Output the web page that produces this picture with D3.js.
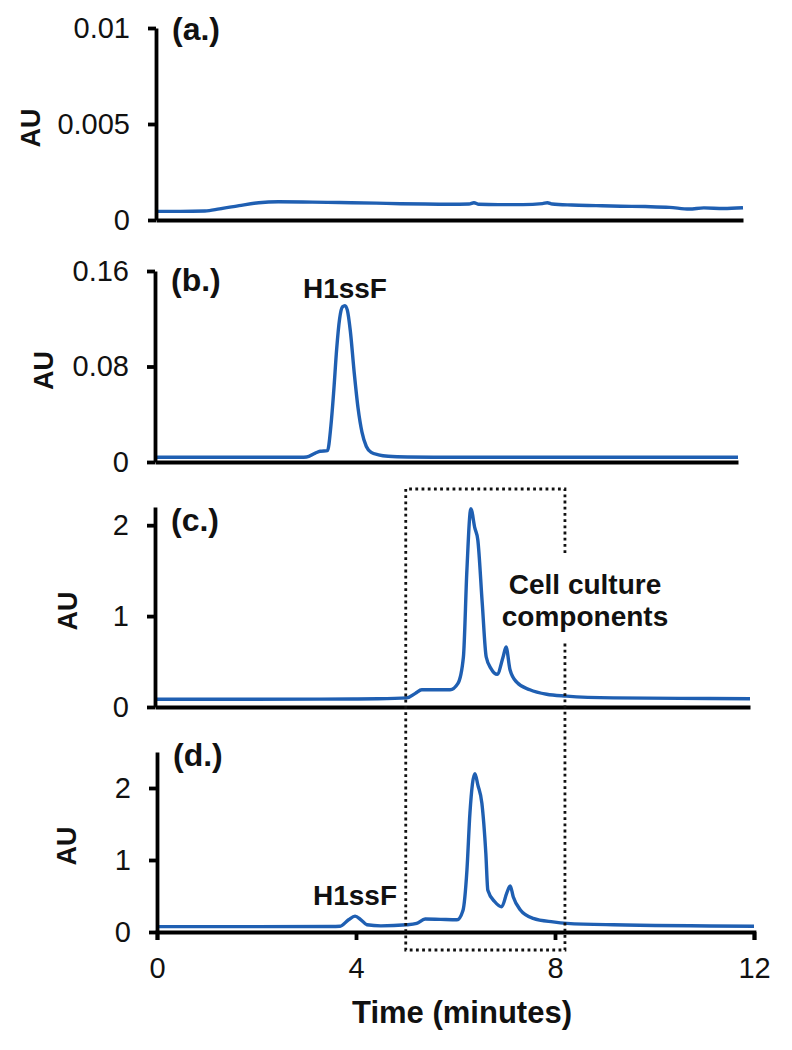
<!DOCTYPE html>
<html>
<head>
<meta charset="utf-8">
<script src="https://cdn.jsdelivr.net/npm/d3@7"></script>
<style>
  body { margin: 0; background: #fff; }
  svg { font-family: "Liberation Sans", Arial, sans-serif; }
  .axis path, .axis line { stroke: #000; stroke-width: 3.8; }
  .axis text { font-family: "Liberation Sans", Arial, sans-serif; font-size: 29px; fill: #111; }
  .trace { fill: none; stroke: #1f5fb2; stroke-width: 3.4; stroke-linejoin: round; }
  .lbl { font-weight: bold; fill: #111; }
</style>
</head>
<body>
<svg id="chart" width="792" height="1050"></svg>
<script>
// (a.) blank
const timeA = [0, 0.5, 1.0, 1.3, 1.7, 2.1, 2.5, 3.0, 3.5, 4.0, 4.5, 5.0, 5.5, 6.0, 6.4, 6.5, 6.6, 7.0, 7.5, 7.9, 8.0, 8.1, 8.5, 9.0, 9.5, 10.0, 10.5, 10.9, 11.2, 11.6, 12];
const auA = [0.00045, 0.00045, 0.00047, 0.00058, 0.00075, 0.0009, 0.00095, 0.00094, 0.00092, 0.0009, 0.00088, 0.00085, 0.00083, 0.00082, 0.00083, 0.0009, 0.00082, 0.0008, 0.0008, 0.00085, 0.0009, 0.00083, 0.00078, 0.00075, 0.00072, 0.0007, 0.00066, 0.00057, 0.00063, 0.0006, 0.00064];

// (b.) H1ssF standard
const timeB = [0, 1, 2, 3, 3.12, 3.3, 3.4, 3.55, 3.62, 3.68, 3.74, 3.8, 3.86, 3.91, 3.96, 4.02, 4.1, 4.18, 4.26, 4.35, 4.45, 4.6, 4.8, 5.2, 6, 8, 10, 12];
const auB = [0.004, 0.004, 0.004, 0.004, 0.0042, 0.0075, 0.009, 0.0095, 0.03, 0.06, 0.095, 0.12, 0.13, 0.131, 0.127, 0.11, 0.075, 0.045, 0.025, 0.013, 0.008, 0.006, 0.0048, 0.0042, 0.004, 0.004, 0.004, 0.004];

// (c.) cell culture medium
const timeC = [0, 2, 4, 4.5, 5.08, 5.25, 5.38, 5.7, 5.95, 6.11, 6.22, 6.29, 6.37, 6.45, 6.51, 6.6, 6.68, 6.78, 6.9, 7.02, 7.08, 7.16, 7.3, 7.56, 7.9, 8.3, 9.24, 10.6, 12];
const auC = [0.085, 0.085, 0.088, 0.09, 0.1, 0.15, 0.19, 0.19, 0.19, 0.26, 0.55, 1.5, 2.18, 1.97, 1.84, 1.14, 0.55, 0.42, 0.36, 0.55, 0.66, 0.41, 0.27, 0.19, 0.14, 0.12, 0.1, 0.095, 0.09];

// (d.) H1ssF spiked into medium
const timeD = [0, 2, 3.5, 3.68, 3.85, 3.98, 4.1, 4.22, 4.5, 5.02, 5.22, 5.39, 5.7, 6.03, 6.15, 6.23, 6.29, 6.39, 6.45, 6.53, 6.61, 6.65, 6.79, 6.93, 7.03, 7.1, 7.16, 7.3, 7.56, 7.96, 8.24, 9.17, 12];
const auD = [0.074, 0.074, 0.076, 0.08, 0.17, 0.22, 0.17, 0.1, 0.085, 0.1, 0.12, 0.18, 0.175, 0.17, 0.3, 0.86, 1.65, 2.2, 2.04, 1.79, 1.09, 0.58, 0.42, 0.35, 0.54, 0.64, 0.49, 0.31, 0.19, 0.14, 0.12, 0.1, 0.08];

const yTicksA = [0, 0.005, 0.01];
const yTicksB = [0, 0.08, 0.16];
const yTicksC = [0, 1, 2];
const yTicksD = [0, 1, 2];
const xTicks = [0, 4, 8, 12];
const yMax = [0.01, 0.16, 2.2, 2.5];

const panelLabels = ["(a.)", "(b.)", "(c.)", "(d.)"];
const peakNotes = [
  { panel: 1, time: 3.91, text: "H1ssF" },
  { panel: 3, time: 3.98, text: "H1ssF" }
];
const boxTimes = [5.0, 8.2];
const boxNote = ["Cell culture", "components"];

// layout
const panels = [
  { t: timeA, v: auA, ticks: yTicksA, x0: 156, x1: 743, y0: 220, y1: 28,  auX: 31, lblY: 40,  noteY: 0 },
  { t: timeB, v: auB, ticks: yTicksB, x0: 155, x1: 738, y0: 462, y1: 271, auX: 44, lblY: 291, noteY: 298 },
  { t: timeC, v: auC, ticks: yTicksC, x0: 155, x1: 750, y0: 707, y1: 507, auX: 68, lblY: 531, noteY: 0 },
  { t: timeD, v: auD, ticks: yTicksD, x0: 157, x1: 754, y0: 932, y1: 752, auX: 67, lblY: 766, noteY: 905 }
];

const svg = d3.select("#chart");
const fmt = d => d === 0 ? "0" : String(d);

panels.forEach((p, i) => {
  p.x = d3.scaleLinear().domain([0, 12]).range([p.x0, p.x1]);
  p.y = d3.scaleLinear().domain([0, yMax[i]]).range([p.y0, p.y1]);
  const g = svg.append("g");

  const line = d3.line()
    .x((d, k) => p.x(p.t[k]))
    .y(d => p.y(d))
    .curve(d3.curveMonotoneX);
  g.append("path").attr("class", "trace").attr("d", line(p.v));

  const xAxis = d3.axisBottom(p.x).tickSizeOuter(0);
  if (i === 3) xAxis.tickValues(xTicks).tickSize(8).tickPadding(17).tickFormat(d3.format("d"));
  else xAxis.tickValues([]);
  g.append("g").attr("class", "axis")
    .attr("transform", `translate(0,${p.y0})`)
    .call(xAxis);

  g.append("g").attr("class", "axis")
    .attr("transform", `translate(${p.x0},0)`)
    .call(d3.axisLeft(p.y).tickValues(p.ticks).tickSize(8).tickPadding(18).tickSizeOuter(0).tickFormat(fmt));

  g.append("text").attr("class", "lbl")
    .attr("transform", `translate(${p.auX},${(p.y0 + p.y1) / 2 + 4}) rotate(-90)`)
    .attr("text-anchor", "middle").attr("dy", "0.35em")
    .style("font-size", "27px").text("AU");

  g.append("text").attr("class", "lbl")
    .attr("x", p.x0 + 16).attr("y", p.lblY)
    .style("font-size", "32px").text(panelLabels[i]);
});

peakNotes.forEach(n => {
  const p = panels[n.panel];
  svg.append("text").attr("class", "lbl")
    .attr("x", p.x(n.time)).attr("y", p.noteY)
    .attr("text-anchor", "middle").style("font-size", "28px").text(n.text);
});

// dotted box spanning panels (c.) and (d.)
const xd = panels[3].x;
const bx0 = xd(boxTimes[0]), bx1 = xd(boxTimes[1]);
const boxTop = 489, boxBot = 950, gapTop = 553, gapBot = 642;
svg.append("path")
  .attr("d", `M${bx1},${gapTop} V${boxTop} H${bx0} V${boxBot} H${bx1} V${gapBot}`)
  .attr("fill", "none").attr("stroke", "#111").attr("stroke-width", 2.8)
  .attr("stroke-dasharray", "2.8 3.4");

svg.append("text").attr("class", "lbl")
  .attr("x", 585).attr("text-anchor", "middle").style("font-size", "28px")
  .selectAll("tspan").data(boxNote).join("tspan")
  .attr("x", 585).attr("y", (d, k) => 594 + k * 32).text(d => d);

svg.append("text").attr("class", "lbl")
  .attr("x", 462).attr("y", 1023).attr("text-anchor", "middle")
  .style("font-size", "31px").text("Time (minutes)");
</script>
</body>
</html>
